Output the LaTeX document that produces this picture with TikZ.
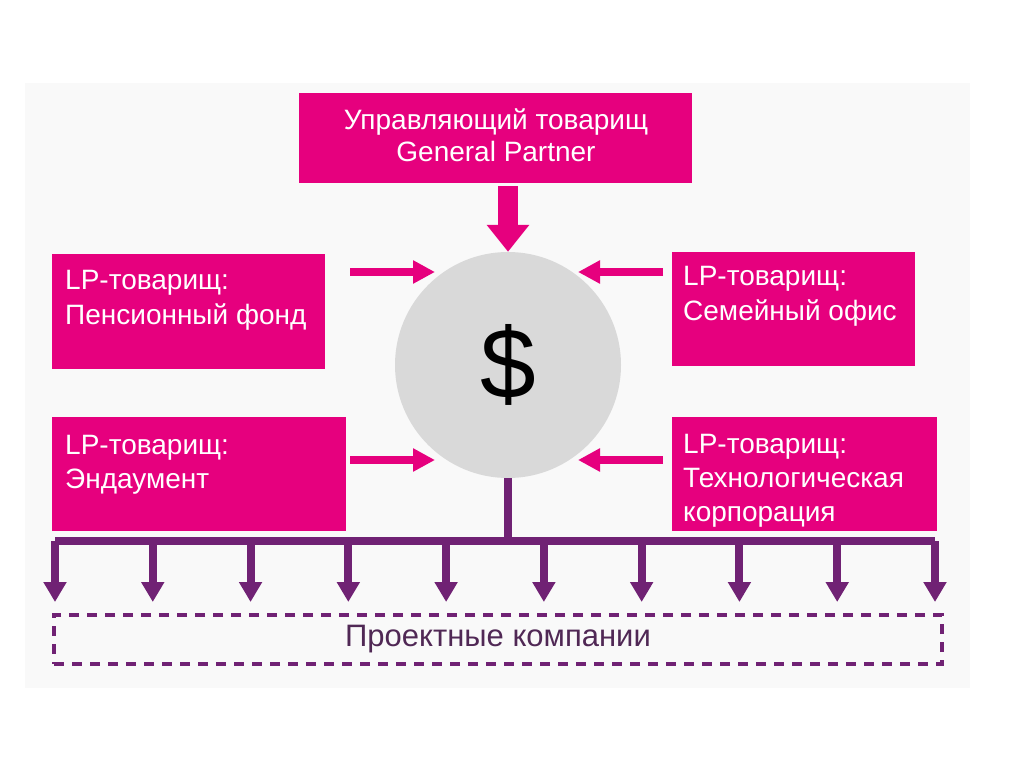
\documentclass[tikz,border=0pt]{standalone}
\usepackage{fontspec}
\setmainfont{Liberation Sans}
\usetikzlibrary{arrows.meta,calc}
\definecolor{mag}{RGB}{230,0,126}
\definecolor{purp}{RGB}{112,34,116}
\definecolor{disc}{RGB}{217,217,217}
\definecolor{panel}{RGB}{249,249,249}
\definecolor{ptext}{RGB}{80,40,85}
\begin{document}
\begin{tikzpicture}[x=1pt,y=-1pt,
  box/.style={fill=mag, draw=none, inner sep=0pt, anchor=north west},
  boxtext/.style={text=white, inner sep=0pt, align=left, anchor=base west},
  bigarrow/.style={draw=mag, line width=20pt, -{Triangle[width=41pt,length=27pt]}},
  pinkarrow/.style={draw=mag, line width=8pt, -{Triangle[width=22pt,length=22pt]}},
  busline/.style={draw=purp, line width=8pt, line cap=square},
  stemline/.style={draw=purp, line width=8pt},
  downarrow/.style={draw=purp, line width=8pt, -{Triangle[width=22pt,length=20pt]}},
  dashbox/.style={draw=purp, line width=4pt, dash pattern=on 10pt off 8pt, inner sep=0pt, anchor=north west, text=ptext}
]
\useasboundingbox (0,0) rectangle (1024,767);
\fill[white] (0,0) rectangle (1024,767);
\fill[panel] (25,83) rectangle (970,688);

% top box
\node[box, minimum width=393pt, minimum height=90pt] (gp) at (299,93) {};
\node[text=white, inner sep=0pt, align=center, anchor=base, font=\fontsize{28}{32}\selectfont] (gpt) at (496,162) {Управляющий товарищ\\General Partner};

% left boxes
\node[box, minimum width=273pt, minimum height=115pt] (pf) at (52,254) {};
\node[boxtext, font=\fontsize{28}{35}\selectfont] (pft) at (65,324) {LP-товарищ:\\Пенсионный фонд};
\node[box, minimum width=294pt, minimum height=114pt] (en) at (52,417) {};
\node[boxtext, font=\fontsize{28}{34}\selectfont] (ent) at (65,488) {LP-товарищ:\\Эндаумент};

% right boxes
\node[box, minimum width=243pt, minimum height=114pt] (fo) at (672,252) {};
\node[boxtext, font=\fontsize{28}{35}\selectfont] (fot) at (683,320) {LP-товарищ:\\Семейный офис};
\node[box, minimum width=265pt, minimum height=114pt] (tc) at (672,417) {};
\node[boxtext, font=\fontsize{28}{34}\selectfont] (tct) at (683,521) {LP-товарищ:\\Технологическая\\корпорация};

% central disc
\node[circle, fill=disc, minimum size=226pt, inner sep=0pt, font=\fontsize{100}{100}\selectfont] (c) at (508,365) {\$};

% arrows into disc
\draw[bigarrow] ([yshift=-3pt]gp.south -| c.north) -- (c.north);
\coordinate (a1s) at (350,272); \coordinate (a1e) at (435,272);
\coordinate (a2s) at (663,272); \coordinate (a2e) at (578,272);
\coordinate (a3s) at (350,460); \coordinate (a3e) at (435,460);
\coordinate (a4s) at (663,460); \coordinate (a4e) at (578,460);
\draw[pinkarrow] (a1s) -- (a1e);
\draw[pinkarrow] (a2s) -- (a2e);
\draw[pinkarrow] (a3s) -- (a3e);
\draw[pinkarrow] (a4s) -- (a4e);

% bus
\coordinate (bl) at (55,541);
\coordinate (br) at (935,541);
\draw[stemline] (c.south) -- (c.south |- bl);
\draw[busline] (bl) -- (br);
\foreach \i in {0,...,9} {
  \coordinate (s\i) at ($(bl)!\i/9!(br)$);
  \coordinate (e\i) at ($(s\i)+(0,61)$);
  \draw[downarrow] (s\i) -- (e\i);
}

% project companies
\node[dashbox, minimum width=888pt, minimum height=49pt, font=\fontsize{31}{34}\selectfont] (pc) at (52,613) {Проектные компании};
\end{tikzpicture}
\end{document}
